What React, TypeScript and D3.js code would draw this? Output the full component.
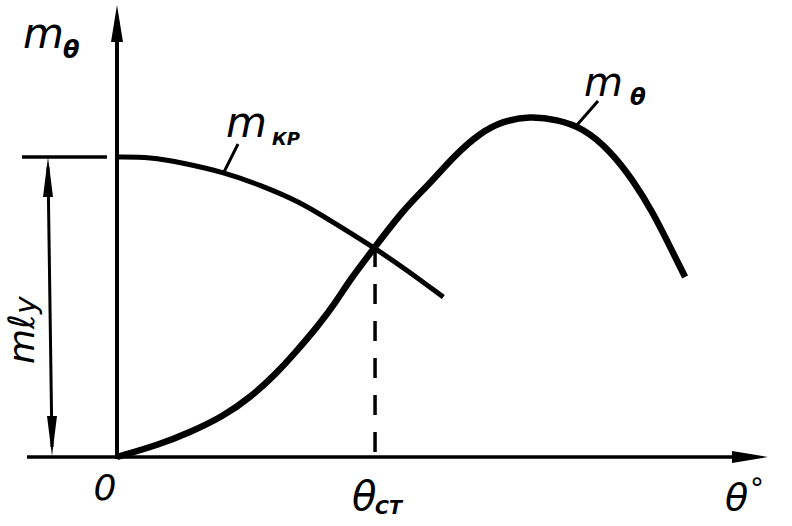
import React from "react";
import * as d3 from "d3";

// θ (arbitrary units) and moment values
const thetaM = [0, 0.66, 1.12, 1.63, 2.05, 2.46, 2.77, 3.08, 3.38, 3.58, 3.97, 4.4, 4.82, 5.17, 5.58, 5.94, 6.35, 6.77, 7.17, 7.58, 7.94, 8.25, 8.51, 8.74];
const mTheta = [0, 0.42, 0.82, 1.35, 1.98, 2.8, 3.55, 4.33, 5.2, 5.9, 7.0, 8.23, 9.13, 10.0, 10.8, 11.2, 11.36, 11.25, 10.97, 10.23, 9.23, 8.13, 7.0, 6.0];
const thetaKr = [0, 0.51, 1.02, 1.63, 2.2, 2.82, 3.32, 3.94, 4.46, 5.02];
const mKr = [10, 10, 9.8, 9.5, 9.07, 8.5, 7.83, 7.0, 6.23, 5.33];
const thetaSt = 3.97;
const mlY = 10;
const thetaMax = 10;

const W = 792, H = 526;
const x = d3.scaleLinear().domain([0, thetaMax]).range([117, 767]);
const y = d3.scaleLinear().domain([0, 10]).range([457, 157]);

const lineSmooth = d3.line<[number, number]>().x(d => x(d[0])).y(d => y(d[1])).curve(d3.curveBasis);
const mThetaPts: [number, number][] = thetaM.map((t, i) => [t, mTheta[i]]);
const mKrPts: [number, number][] = thetaKr.map((t, i) => [t, mKr[i]]);

const font = "'DejaVu Sans', 'Liberation Sans', sans-serif";

export default function App() {
  const x0 = x(0), y0 = y(0), yTop = y(mlY), xs = x(thetaSt), ys = y(7.0);
  const xEnd = x(thetaMax) + 1;
  return (
    <svg width={W} height={H} style={{ position: "absolute", left: 0, top: 0, background: "#fff" }}>
      {/* axes */}
      <line x1={27} y1={y0} x2={xEnd - 20} y2={y0} stroke="#000" strokeWidth={3.5} />
      <path d={`M${xEnd},${y0} L${xEnd - 36},${y0 - 6} L${xEnd - 36},${y0 + 6} Z`} fill="#000" />
      <line x1={x0} y1={y0 + 2} x2={x0} y2={30} stroke="#000" strokeWidth={4} />
      <path d={`M${x0},5 L${x0 - 6},42 L${x0 + 6},42 Z`} fill="#000" />
      {/* dimension ml_y */}
      <line x1={22} y1={yTop} x2={107} y2={yTop} stroke="#000" strokeWidth={3.5} />
      <line x1={48} y1={yTop + 10} x2={52} y2={y0 - 10} stroke="#000" strokeWidth={3} />
      <path d={`M48,${yTop} L43,${yTop + 40} L53,${yTop + 40} Z`} fill="#000" />
      <path d={`M52,${y0 - 1} L47,${y0 - 41} L57,${y0 - 41} Z`} fill="#000" />
      <text transform={`translate(34,364) rotate(-90)`} fontFamily={font} fontStyle="italic" fontSize={36} fill="#000">
        mℓ<tspan fontSize={30} dy={2}>y</tspan>
      </text>
      {/* dashed θст */}
      <line x1={xs} y1={ys} x2={xs} y2={y0} stroke="#000" strokeWidth={3.5} strokeDasharray="20,17" />
      {/* curves */}
      <path d={lineSmooth(mKrPts) ?? ""} fill="none" stroke="#000" strokeWidth={5} />
      <path d={lineSmooth(mThetaPts) ?? ""} fill="none" stroke="#000" strokeWidth={6.5} />
      {/* leaders */}
      <line x1={224} y1={172} x2={238} y2={144} stroke="#000" strokeWidth={3} />
      <line x1={577} y1={125} x2={598} y2={101} stroke="#000" strokeWidth={3} />
      {/* labels */}
      <text x={23} y={48} fontFamily={font} fontStyle="italic" fontSize={42} fill="#000">m</text>
      <text x={63} y={58} fontFamily={font} fontStyle="italic" fontWeight="bold" fontSize={24} fill="#000">θ</text>
      <text x={226} y={137} fontFamily={font} fontStyle="italic" fontSize={42} fill="#000">m</text>
      <text x={272} y={145} fontFamily={font} fontStyle="italic" fontWeight="bold" fontSize={18} fill="#000">КР</text>
      <text x={584} y={96} fontFamily={font} fontStyle="italic" fontSize={40} fill="#000">m</text>
      <text x={630} y={105} fontFamily={font} fontStyle="italic" fontWeight="bold" fontSize={23} fill="#000">θ</text>
      <text x={105} y={500} textAnchor="middle" fontFamily={font} fontStyle="italic" fontSize={36} fill="#000">0</text>
      <text x={352} y={510} fontFamily={font} fontStyle="italic" fontSize={40} fill="#000">θ</text>
      <text x={375} y={514} fontFamily={font} fontStyle="italic" fontWeight="bold" fontSize={19} fill="#000">СТ</text>
      <text x={725} y={510} fontFamily={font} fontStyle="italic" fontSize={38} fill="#000">θ</text>
      <text x={750} y={498} fontFamily={font} fontSize={28} fill="#000">°</text>
    </svg>
  );
}
